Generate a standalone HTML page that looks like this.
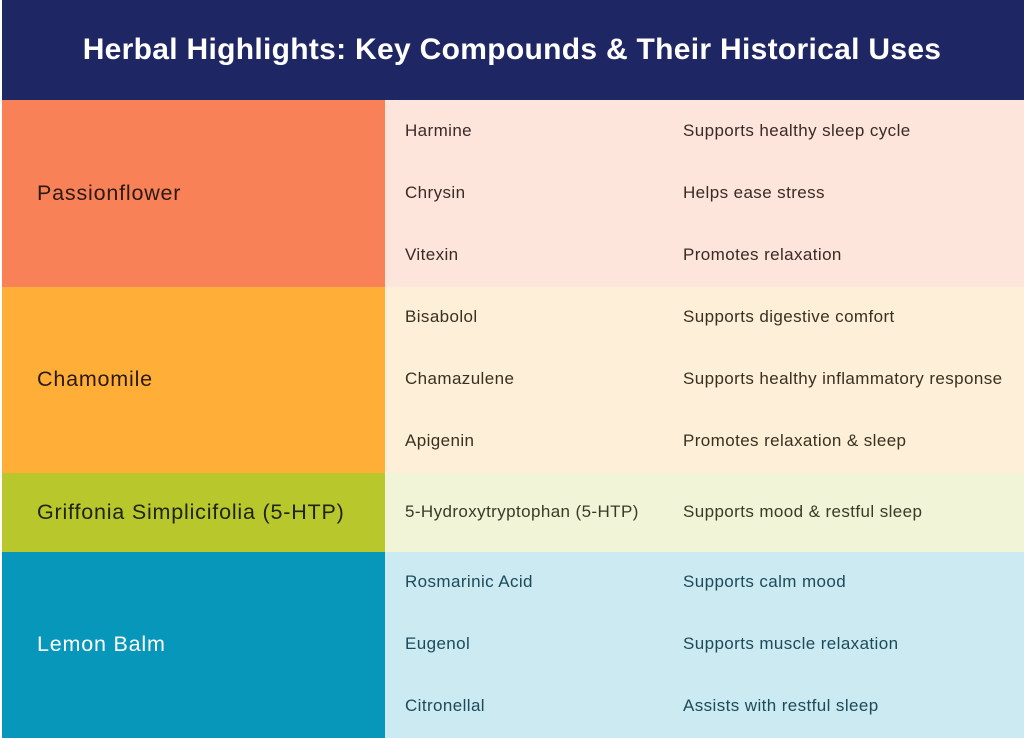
<!DOCTYPE html>
<html><head><meta charset="utf-8"><style>
body{margin:0;width:1024px;height:738px;overflow:hidden;background:#fff;font-family:"Liberation Sans",sans-serif;position:relative}
div{position:absolute;box-sizing:border-box}
.t{font-size:17px;white-space:nowrap;line-height:20px;letter-spacing:0.4px}
.l{font-size:21.5px;white-space:nowrap;line-height:24px;left:37px;letter-spacing:0.8px}
</style></head><body>
<div style="left:2px;top:0;width:1022px;height:100px;background:#1f2664"></div>
<div style="left:0;top:30px;width:1024px;text-align:center;color:#fff;font-weight:bold;font-size:30px;line-height:40px;letter-spacing:0.3px">Herbal Highlights: Key Compounds &amp; Their Historical Uses</div>

<div style="left:2px;top:100px;width:383px;height:187px;background:#f98157"></div>
<div style="left:385px;top:100px;width:639px;height:187px;background:#fde5dc"></div>
<div style="left:2px;top:287px;width:383px;height:186px;background:#ffaf38"></div>
<div style="left:385px;top:287px;width:639px;height:186px;background:#fef0d8"></div>
<div style="left:2px;top:473px;width:383px;height:79px;background:#b7c72c"></div>
<div style="left:385px;top:473px;width:639px;height:79px;background:#f1f4d6"></div>
<div style="left:2px;top:552px;width:383px;height:186px;background:#0797ba"></div>
<div style="left:385px;top:552px;width:639px;height:186px;background:#cceaf2"></div>

<div class="l" style="top:181px;color:#2a1a14">Passionflower</div>
<div class="l" style="top:367px;color:#2a1a10">Chamomile</div>
<div class="l" style="top:500px;color:#1e2410">Griffonia Simplicifolia (5-HTP)</div>
<div class="l" style="top:632px;color:#fff">Lemon Balm</div>

<div class="t" style="left:405px;top:121px;color:#3a2a25">Harmine</div>
<div class="t" style="left:405px;top:183px;color:#3a2a25">Chrysin</div>
<div class="t" style="left:405px;top:245px;color:#3a2a25">Vitexin</div>
<div class="t" style="left:683px;top:121px;color:#3a2a25">Supports healthy sleep cycle</div>
<div class="t" style="left:683px;top:183px;color:#3a2a25">Helps ease stress</div>
<div class="t" style="left:683px;top:245px;color:#3a2a25">Promotes relaxation</div>

<div class="t" style="left:405px;top:307px;color:#3a3020">Bisabolol</div>
<div class="t" style="left:405px;top:369px;color:#3a3020">Chamazulene</div>
<div class="t" style="left:405px;top:431px;color:#3a3020">Apigenin</div>
<div class="t" style="left:683px;top:307px;color:#3a3020">Supports digestive comfort</div>
<div class="t" style="left:683px;top:369px;color:#3a3020">Supports healthy inflammatory response</div>
<div class="t" style="left:683px;top:431px;color:#3a3020">Promotes relaxation &amp; sleep</div>

<div class="t" style="left:405px;top:502px;color:#3a3a28">5-Hydroxytryptophan (5-HTP)</div>
<div class="t" style="left:683px;top:502px;color:#3a3a28">Supports mood &amp; restful sleep</div>

<div class="t" style="left:405px;top:572px;color:#1d4a5a">Rosmarinic Acid</div>
<div class="t" style="left:405px;top:634px;color:#1d4a5a">Eugenol</div>
<div class="t" style="left:405px;top:696px;color:#1d4a5a">Citronellal</div>
<div class="t" style="left:683px;top:572px;color:#1d4a5a">Supports calm mood</div>
<div class="t" style="left:683px;top:634px;color:#1d4a5a">Supports muscle relaxation</div>
<div class="t" style="left:683px;top:696px;color:#1d4a5a">Assists with restful sleep</div>
</body></html>
